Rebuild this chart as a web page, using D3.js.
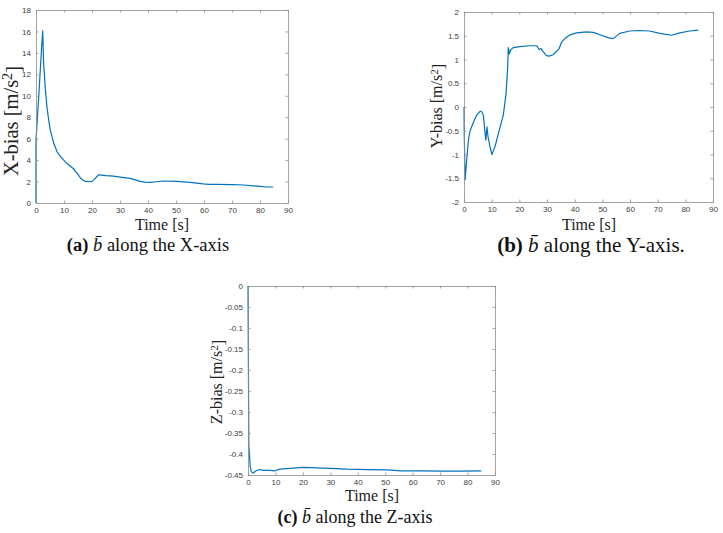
<!DOCTYPE html>
<html lang="en">
  <head>
    <meta charset="UTF-8" />
    <title>Bias estimates</title>
    <script src="https://cdn.jsdelivr.net/npm/d3@7"></script>
    <style>
      body { margin: 0; background: #fff; }
      svg { display: block; }
    </style>
  </head>
  <body>
    <div id="chart"></div>
    <script>
      // time axis ticks shared by all three panels
      const timeTicks = [0, 10, 20, 30, 40, 50, 60, 70, 80, 90]

      // (a) X-axis bias
      const timeX = [0, 0, 1, 2, 2.4, 2.7, 3.3, 3.9, 4.5, 5.1, 6.3, 7.5, 8.7, 9.9, 11, 12.2, 13.4, 14, 14.6, 15.2, 15.8, 16.7, 17.6, 18.8, 20, 20.8, 21.7, 22.3, 22.6, 25, 27.7, 30, 33.6, 35.5, 37.2, 39, 40.7, 43, 45.5, 50.2, 55, 59.7, 62, 64.5, 70.4, 74, 77.6, 80, 82.3, 84.7]
      const biasX = [0, 5.9, 10, 14.5, 16.05, 13.2, 10.7, 9.0, 7.8, 6.8, 5.6, 4.8, 4.35, 4.0, 3.7, 3.45, 3.2, 2.95, 2.8, 2.6, 2.35, 2.15, 2.02, 1.98, 2.02, 2.2, 2.45, 2.62, 2.62, 2.55, 2.5, 2.42, 2.3, 2.15, 2.02, 1.95, 1.92, 1.98, 2.05, 2.02, 1.93, 1.78, 1.74, 1.74, 1.71, 1.68, 1.6, 1.55, 1.49, 1.49]
      const ticksX = [0, 2, 4, 6, 8, 10, 12, 14, 16, 18]

      // (b) Y-axis bias
      const timeY = [0, 0.1, 0.4, 1, 1.6, 2.2, 3.4, 4.6, 5.8, 6.4, 7, 7.6, 7.9, 8.3, 8.7, 9.4, 10.1, 11.2, 12.4, 14.2, 15.2, 15.8, 16, 16.4, 16.8, 17.8, 20.2, 23.8, 26.2, 27.2, 27.8, 28.4, 29.8, 30.8, 32.2, 34.4, 35.3, 36.5, 38.3, 40.7, 44.3, 46.7, 49.1, 52.1, 53.9, 56.3, 59.9, 63.5, 67.1, 70.8, 75, 78, 81.6, 84.6]
      const biasY = [0, -0.6, -1.53, -1.1, -0.7, -0.5, -0.32, -0.17, -0.09, -0.1, -0.17, -0.55, -0.7, -0.42, -0.63, -0.84, -1.0, -0.84, -0.56, -0.17, 0.28, 0.85, 1.25, 1.12, 1.2, 1.25, 1.27, 1.29, 1.29, 1.21, 1.23, 1.18, 1.08, 1.07, 1.1, 1.23, 1.37, 1.44, 1.52, 1.56, 1.58, 1.57, 1.52, 1.46, 1.44, 1.55, 1.6, 1.61, 1.6, 1.55, 1.51, 1.56, 1.6, 1.62]
      const ticksY = [-2, -1.5, -1, -0.5, 0, 0.5, 1, 1.5, 2]

      // (c) Z-axis bias
      const timeZ = [0, 0.3, 0.8, 1.2, 1.8, 3, 4.3, 5.5, 8, 9.8, 11.6, 15.3, 20.2, 25, 30, 36, 43.5, 50.8, 55.7, 63, 70.4, 77.7, 85]
      const biasZ = [0, -0.38, -0.43, -0.442, -0.445, -0.44, -0.437, -0.439, -0.439, -0.44, -0.436, -0.434, -0.432, -0.433, -0.434, -0.436, -0.437, -0.438, -0.44, -0.44, -0.441, -0.441, -0.44]
      const ticksZ = [-0.45, -0.4, -0.35, -0.3, -0.25, -0.2, -0.15, -0.1, -0.05, 0]

      const W = 723, H = 533
      const lineColor = '#0072bd'
      const serif = '"Liberation Serif", "DejaVu Serif", serif'

      const svg = d3.select('#chart').append('svg')
        .attr('width', W).attr('height', H)

      const panels = [
        {
          t: timeX, v: biasX, yTicks: ticksX, yDomain: [0, 18],
          box: [36, 10, 288, 203], letter: 'X', tag: 'a', tail: '',
          ylab: { x: 18, y: 121, size: 20.5 },
          xlab: { x: 162, y: 230 }, cap: { x: 148, y: 251, size: 18.5 }
        },
        {
          t: timeY, v: biasY, yTicks: ticksY, yDomain: [-2, 2],
          box: [464, 12, 713, 202], letter: 'Y', tag: 'b', tail: '.',
          ylab: { x: 442, y: 106, size: 16 },
          xlab: { x: 589, y: 230 }, cap: { x: 591, y: 252, size: 21 }
        },
        {
          t: timeZ, v: biasZ, yTicks: ticksZ, yDomain: [-0.45, 0],
          box: [248, 286, 495, 475], letter: 'Z', tag: 'c', tail: '',
          ylab: { x: 222, y: 382, size: 16 },
          xlab: { x: 372, y: 501 }, cap: { x: 355, y: 523, size: 18 }
        }
      ]

      panels.forEach(p => drawPanel(p))

      function drawPanel(p) {
        const [x0, y0, x1, y1] = p.box
        const x = d3.scaleLinear().domain([0, 90]).range([x0, x1])
        const y = d3.scaleLinear().domain(p.yDomain).range([y1, y0])
        const g = svg.append('g')
        const tk = 2.5

        // data line
        const pts = p.t.map((t, i) => [t, p.v[i]])
        g.append('path')
          .datum(pts)
          .attr('fill', 'none')
          .attr('stroke', lineColor)
          .attr('stroke-width', 1.2)
          .attr('stroke-linejoin', 'round')
          .attr('d', d3.line().x(d => x(d[0])).y(d => y(d[1])))

        // axes box with inward ticks, MATLAB style (plain hyphen minus)
        const fmt = d => String(d)
        const axBottom = d3.axisBottom(x).tickValues(timeTicks).tickSizeInner(-tk).tickSizeOuter(0).tickPadding(4).tickFormat(fmt)
        const axTop = d3.axisTop(x).tickValues(timeTicks).tickSizeInner(-tk).tickSizeOuter(0).tickFormat('')
        const axLeft = d3.axisLeft(y).tickValues(p.yTicks).tickSizeInner(-tk).tickSizeOuter(0).tickPadding(5).tickFormat(fmt)
        const axRight = d3.axisRight(y).tickValues(p.yTicks).tickSizeInner(-tk).tickSizeOuter(0).tickFormat('')

        g.append('g').attr('transform', `translate(0,${y1})`).call(axBottom)
        g.append('g').attr('transform', `translate(0,${y0})`).call(axTop)
        g.append('g').attr('transform', `translate(${x0},0)`).call(axLeft)
        g.append('g').attr('transform', `translate(${x1},0)`).call(axRight)

        g.selectAll('.domain').attr('stroke', '#8c8c8c').attr('stroke-width', 0.8)
        g.selectAll('.tick line').attr('stroke', '#8c8c8c').attr('stroke-width', 0.8)
        g.selectAll('.tick text')
          .attr('fill', '#404040')
          .attr('font-family', 'Helvetica, Arial, "Liberation Sans", sans-serif')
          .attr('font-size', 8)

        // y label, rotated, with squared superscript
        const yl = svg.append('text')
          .attr('transform', `translate(${p.ylab.x},${p.ylab.y}) rotate(-90)`)
          .attr('text-anchor', 'middle')
          .attr('font-family', serif)
          .attr('font-size', p.ylab.size)
          .attr('fill', '#222')
        yl.append('tspan').text(`${p.letter}-bias [m/s`)
        yl.append('tspan').attr('dy', '-0.4em').attr('font-size', '70%').text('2')
        yl.append('tspan').attr('dy', '0.4em').text(']')

        // x label
        svg.append('text')
          .attr('x', p.xlab.x).attr('y', p.xlab.y)
          .attr('text-anchor', 'middle')
          .attr('font-family', serif)
          .attr('font-size', 16)
          .attr('fill', '#222')
          .text('Time [s]')

        // sub-figure caption
        const cap = svg.append('text')
          .attr('x', p.cap.x).attr('y', p.cap.y)
          .attr('text-anchor', 'middle')
          .attr('font-family', serif)
          .attr('font-size', p.cap.size)
          .attr('fill', '#111')
        cap.append('tspan').attr('font-weight', 'bold').text(`(${p.tag})`)
        cap.append('tspan').text(' ')
        cap.append('tspan').attr('font-style', 'italic').text('b\u0304')
        cap.append('tspan').text(` along the ${p.letter}-axis${p.tail}`)
      }
    </script>
  </body>
</html>
